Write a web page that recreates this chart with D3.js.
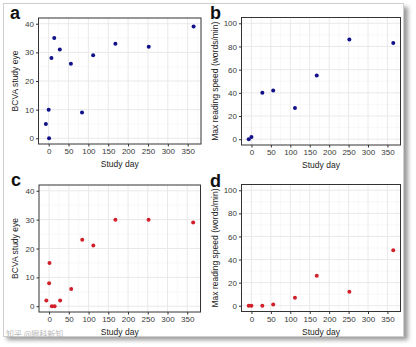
<!DOCTYPE html>
<html><head><meta charset="utf-8">
<script src="https://cdn.jsdelivr.net/npm/d3@7"></script>
<style>body{margin:0;background:#fff;} svg{display:block;font-family:"Liberation Sans",Arial,sans-serif;}</style>
</head><body><svg id="c" width="416" height="347"></svg>
<script>
// Data
const bcvaDays = [-7, 0, 1, 7, 14, 28, 56, 84, 112, 168, 252, 365];
const bcvaTop = [5, 10, 0, 28, 35, 31, 26, 9, 29, 33, 32, 39];
const bcvaBottom = [2, 8, 15, 0, 0, 2, 6, 23, 21, 30, 30, 29];
const speedDays = [-7, 0, 28, 56, 112, 168, 252, 365];
const speedTop = [0, 2, 40, 42, 27, 55, 86, 83];
const speedBottom = [0, 0, 0, 1, 7, 26, 12, 48];
const xTicks = [0, 50, 100, 150, 200, 250, 300, 350];
const bcvaTicks = [0, 10, 20, 30, 40];
const speedTicks = [0, 20, 40, 60, 80, 100];
const panelLabels = ["a", "b", "c", "d"];

const svg = d3.select("#c");
const defs = svg.append("defs");
const f = defs.append("filter").attr("id","sh").attr("x","-10%").attr("y","-10%").attr("width","120%").attr("height","120%");
f.append("feGaussianBlur").attr("stdDeviation", 2.2);

// frame with shadow
svg.append("rect").attr("x",7).attr("y",7).attr("width",401).attr("height",333).attr("fill","#9a9a9a").attr("filter","url(#sh)");
svg.append("rect").attr("x",3.5).attr("y",3.5).attr("width",400).attr("height",333).attr("fill","#fff").attr("stroke","#cfcfcf");

const panels = [
  {lab:"a", l:38.5, r:201, t:18, b:144, days:bcvaDays, vals:bcvaTop, yd:[-2,42], yt:bcvaTicks, ym:[5,15,25,35], title:"BCVA study eye", col:"#10108a", tx:15, lx:10, ly:19},
  {lab:"b", l:241.5, r:400.5, t:17.5, b:145, days:speedDays, vals:speedTop, yd:[-5,105], yt:speedTicks, ym:[10,30,50,70,90], title:"Max reading speed (words/min)", col:"#10108a", tx:215, lx:210, ly:19},
  {lab:"c", l:39, r:200.5, t:185, b:312, days:bcvaDays, vals:bcvaBottom, yd:[-2,42], yt:bcvaTicks, ym:[5,15,25,35], title:"BCVA study eye", col:"#d0202a", tx:15, lx:11, ly:186},
  {lab:"d", l:241.5, r:400.5, t:184.5, b:311.5, days:speedDays, vals:speedBottom, yd:[-5,105], yt:speedTicks, ym:[10,30,50,70,90], title:"Max reading speed (words/min)", col:"#d0202a", tx:215, lx:210, ly:187}
];
const xMinor = [25,75,125,175,225,275,325,375];

panels.forEach(p => {
  const x = d3.scaleLinear().domain([-25.6, 383.6]).range([p.l, p.r]);
  const y = d3.scaleLinear().domain(p.yd).range([p.b, p.t]);
  const g = svg.append("g");
  // minor grid
  g.selectAll(".mx").data(xMinor.filter(v => x(v) < p.r)).enter().append("line")
    .attr("x1", d => x(d)).attr("x2", d => x(d)).attr("y1", p.t).attr("y2", p.b).attr("stroke", "#f4f4f4").attr("stroke-width", 0.6);
  g.selectAll(".my").data(p.ym).enter().append("line")
    .attr("y1", d => y(d)).attr("y2", d => y(d)).attr("x1", p.l).attr("x2", p.r).attr("stroke", "#f4f4f4").attr("stroke-width", 0.6);
  // major grid
  g.selectAll(".gx").data(xTicks).enter().append("line")
    .attr("x1", d => x(d)).attr("x2", d => x(d)).attr("y1", p.t).attr("y2", p.b).attr("stroke", "#e6e6e6").attr("stroke-width", 0.9);
  g.selectAll(".gy").data(p.yt).enter().append("line")
    .attr("y1", d => y(d)).attr("y2", d => y(d)).attr("x1", p.l).attr("x2", p.r).attr("stroke", "#e6e6e6").attr("stroke-width", 0.9);
  // axes
  const xa = g.append("g").attr("transform", `translate(0,${p.b})`)
    .call(d3.axisBottom(x).tickValues(xTicks).tickSize(2.5).tickPadding(2));
  const ya = g.append("g").attr("transform", `translate(${p.l},0)`)
    .call(d3.axisLeft(y).tickValues(p.yt).tickSize(2.5).tickPadding(2));
  [xa, ya].forEach(a => {
    a.select(".domain").remove();
    a.selectAll(".tick line").attr("stroke", "#333");
    a.selectAll(".tick text").attr("fill", "#3a3a3a").style("font-size", "8px");
  });
  // border
  g.append("rect").attr("x", p.l).attr("y", p.t).attr("width", p.r - p.l).attr("height", p.b - p.t)
    .attr("fill", "none").attr("stroke", "#333").attr("stroke-width", 1);
  // points
  g.selectAll("circle").data(p.days.map((d, i) => [d, p.vals[i]])).enter().append("circle")
    .attr("cx", d => x(d[0])).attr("cy", d => y(d[1])).attr("r", 2).attr("fill", p.col);
  // titles
  g.append("text").attr("x", (p.l + p.r) / 2).attr("y", p.b + 23).attr("text-anchor", "middle")
    .attr("fill", "#222").style("font-size", "8.5px").text("Study day");
  g.append("text").attr("transform", `translate(${p.tx},${(p.t + p.b) / 2}) rotate(-90)`)
    .attr("text-anchor", "middle").attr("dy", "0.35em").attr("fill", "#222").style("font-size", "8.5px").text(p.title);
  g.append("text").attr("x", p.lx).attr("y", p.ly).attr("fill", "#111").style("font-size", "18px").style("font-weight", "bold").text(p.lab);
});

// watermark
svg.append("text").attr("x", 6).attr("y", 337).attr("fill", "#b8b8b8").style("font-size", "8px")
  .style("font-family", "'Noto Sans CJK SC',sans-serif").text("知乎 @眼科新知");
</script></body></html>
